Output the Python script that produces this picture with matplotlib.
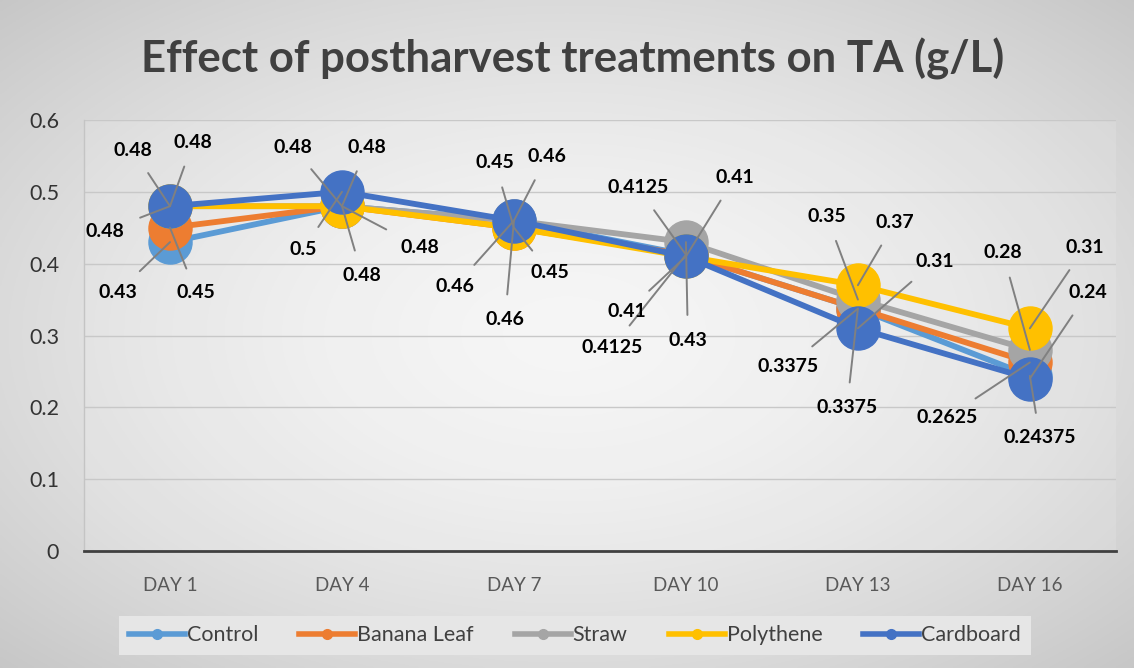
import numpy as np
import matplotlib.pyplot as plt

plt.rcParams['font.family'] = ['Lato', 'DejaVu Sans']

# data
days = ["DAY 1", "DAY 4", "DAY 7", "DAY 10", "DAY 13", "DAY 16"]
control = [0.43, 0.48, 0.46, 0.4125, 0.3375, 0.24375]
banana_leaf = [0.45, 0.48, 0.45, 0.4125, 0.3375, 0.2625]
straw = [0.48, 0.48, 0.46, 0.43, 0.35, 0.28]
polythene = [0.48, 0.48, 0.45, 0.41, 0.37, 0.31]
cardboard = [0.48, 0.5, 0.46, 0.41, 0.31, 0.24]

names = ["Control", "Banana Leaf", "Straw", "Polythene", "Cardboard"]
series = [control, banana_leaf, straw, polythene, cardboard]
colors = ["#5B9BD5", "#ED7D31", "#A5A5A5", "#FFC000", "#4472C4"]

# label offsets in pixels (per series, per day), to copy the excel leader layout
offsets = [
    [(-52, -50), (-49, 59), (-59, -66), (-48, 67), (-70, -58), (10, -62)],
    [(26, -65), (25, 59), (-19, 65), (-74, -93), (-11, -99), (-83, -55)],
    [(-65, -25), (78, -41), (-9, -99), (2, -98), (-31, 83), (-27, 97)],
    [(-37, 56), (20, -69), (36, -45), (-59, -55), (37, 63), (55, 81)],
    [(23, 64), (-39, -58), (33, 64), (49, 79), (77, 67), (58, 86)],
]

fig = plt.figure(figsize=(11.34, 6.68), dpi=100)

# radial grey background (light centre, darker edges)
bg = fig.add_axes([0, 0, 1, 1], zorder=-10)
yy, xx = np.mgrid[-1:1:300j, -1:1:500j]
r = np.sqrt(xx**2 + yy**2) / np.sqrt(2)
v = 0.96 - 0.18 * r**1.6
img = np.dstack([v, v, v])
bg.imshow(img, aspect="auto", extent=[0, 1, 0, 1])
bg.axis("off")

ax = fig.add_axes([0.0741, 0.1751, 0.9099, 0.6453])
ax.patch.set_facecolor("white")
ax.patch.set_alpha(0.12)
x = np.arange(len(days))

for i in range(len(series)):
    ax.plot(x, series[i], color=colors[i], linewidth=4.2, marker="o",
            markersize=31, label=names[i], zorder=3 + i)

for i in range(len(series)):
    for j in range(len(days)):
        ax.annotate(f"{series[i][j]:g}", xy=(x[j], series[i][j]),
                    xytext=offsets[i][j], textcoords="offset pixels",
                    ha="center", va="center", fontsize=14, fontweight="bold",
                    color="black", zorder=20,
                    arrowprops=dict(arrowstyle="-", color="#808080", lw=1.4,
                                    shrinkA=10, shrinkB=0))

ax.set_xlim(-0.5, len(days) - 0.5)
ax.set_ylim(0, 0.6)
ax.set_yticks(np.arange(0, 0.61, 0.1))
ax.set_yticklabels(["0", "0.1", "0.2", "0.3", "0.4", "0.5", "0.6"])
ax.set_xticks(x)
ax.set_xticklabels(days)
ax.tick_params(axis="y", length=0, labelsize=15.5, labelcolor="#333333", pad=18)
ax.tick_params(axis="x", length=0, labelsize=13.5, labelcolor="#595959", pad=19)
ax.grid(axis="y", color="#c8c8c8", linewidth=1)
ax.set_axisbelow(True)
for s in ["top", "right"]:
    ax.spines[s].set_visible(False)
ax.spines["left"].set_color("#c4c4c4")
ax.spines["left"].set_linewidth(1)
ax.spines["bottom"].set_color("#404040")
ax.spines["bottom"].set_linewidth(2)

fig.text(0.505, 0.912, "Effect of postharvest treatments on TA (g/L)",
         ha="center", va="center", fontsize=31.5, fontweight="bold",
         color="#404040")

handles = [plt.Line2D([0], [0], color=c, lw=4, marker="o", markersize=7)
           for c in colors]
leg = fig.legend(handles, names, loc="center", bbox_to_anchor=(0.507, 0.049),
                 ncol=5, frameon=True, fontsize=15.5, handlelength=2.6,
                 handletextpad=0.1, columnspacing=1.9, fancybox=False,
                 borderpad=0.45)
leg.get_frame().set_facecolor("#e6e6e6")
leg.get_frame().set_edgecolor("none")
leg.get_frame().set_alpha(1)
for t in leg.get_texts():
    t.set_color("#404040")

fig.savefig("out.png", dpi=100)
